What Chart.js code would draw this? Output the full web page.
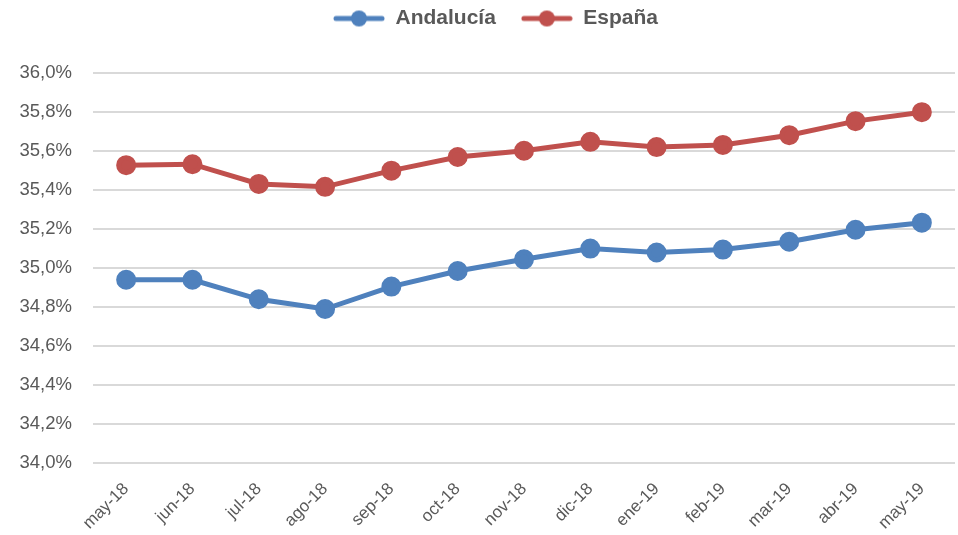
<!DOCTYPE html>
<html>
<head>
<meta charset="utf-8">
<script src="https://cdn.jsdelivr.net/npm/chart.js@4"></script>
<style>
html,body{margin:0;padding:0;background:#fff;}
#wrap{width:958px;height:535px;}
</style>
</head>
<body>
<div id="wrap"><canvas id="c" width="958" height="535"></canvas></div>
<script>
const categories = ["may-18","jun-18","jul-18","ago-18","sep-18","oct-18","nov-18","dic-18","ene-19","feb-19","mar-19","abr-19","may-19"];
const andalucia = [34.94,34.94,34.84,34.79,34.905,34.985,35.045,35.10,35.08,35.095,35.135,35.197,35.233];
const espana = [35.528,35.533,35.432,35.417,35.50,35.57,35.602,35.648,35.621,35.632,35.682,35.754,35.80];
const seriesNames = ["Andalucía","España"];
const colors = ["#4F81BD","#C0504D"];
const FONT = "'Liberation Sans', Arial, sans-serif";

function legendIcon(color){
  const cv = document.createElement('canvas');
  cv.width = 52; cv.height = 18;
  const g = cv.getContext('2d');
  g.strokeStyle = color; g.lineWidth = 5; g.lineCap = 'round';
  g.beginPath(); g.moveTo(3,9); g.lineTo(49,9); g.stroke();
  g.fillStyle = color;
  g.beginPath(); g.arc(26,9,8,0,Math.PI*2); g.fill();
  return cv;
}
const icons = colors.map(legendIcon);

const shiftLegend = {
  id: 'shiftLegend',
  afterLayout(chart) {
    if (chart.legend) { chart.legend.left += 18; chart.legend.right += 18; }
  }
};

new Chart(document.getElementById('c'), {
  type: 'line',
  data: {
    labels: categories,
    datasets: [
      {label: seriesNames[0], data: andalucia, borderColor: colors[0], backgroundColor: colors[0], borderWidth: 5, pointRadius: 7.5, pointHoverRadius: 7.5, pointStyle: 'circle', tension: 0},
      {label: seriesNames[1], data: espana, borderColor: colors[1], backgroundColor: colors[1], borderWidth: 5, pointRadius: 7.5, pointHoverRadius: 7.5, pointStyle: 'circle', tension: 0}
    ]
  },
  plugins: [shiftLegend],
  options: {
    responsive: false,
    animation: false,
    devicePixelRatio: 1,
    layout: {autoPadding: false, padding: {left: 0, right: 3, top: -17, bottom: 0}},
    plugins: {
      tooltip: {enabled: false},
      subtitle: {display: true, text: ' ', weight: 500, font: {size: 1}, padding: {top: 0, bottom: 33}},
      legend: {
        position: 'top',
        labels: {
          usePointStyle: true,
          pointStyleWidth: 52,
          boxHeight: 18,
          padding: 25,
          color: '#595959',
          font: {family: FONT, size: 21, weight: 'bold'},
          generateLabels: (chart) => chart.data.datasets.map((ds, i) => ({
            text: ds.label, pointStyle: icons[i], fillStyle: colors[i], strokeStyle: colors[i], lineWidth: 0, datasetIndex: i, fontColor: '#595959'
          }))
        }
      }
    },
    scales: {
      x: {
        offset: true,
        grid: {display: false, drawTicks: false},
        border: {display: false},
        afterFit: (s) => { s.height = 72; s.paddingRight = 0; },
        ticks: {
          maxRotation: 45, minRotation: 45, autoSkip: false, padding: 16,
          color: '#595959',
          font: {family: FONT, size: 17}
        }
      },
      y: {
        min: 34, max: 36,
        afterFit: (s) => { s.width = 93; },
        grid: {color: '#D9D9D9', lineWidth: 2, drawTicks: false},
        border: {display: false},
        ticks: {
          stepSize: 0.2, padding: 21,
          color: '#595959',
          font: {family: FONT, size: 18.5},
          callback: (v) => v.toFixed(1).replace('.', ',') + '%'
        }
      }
    }
  }
});
</script>
</body>
</html>
